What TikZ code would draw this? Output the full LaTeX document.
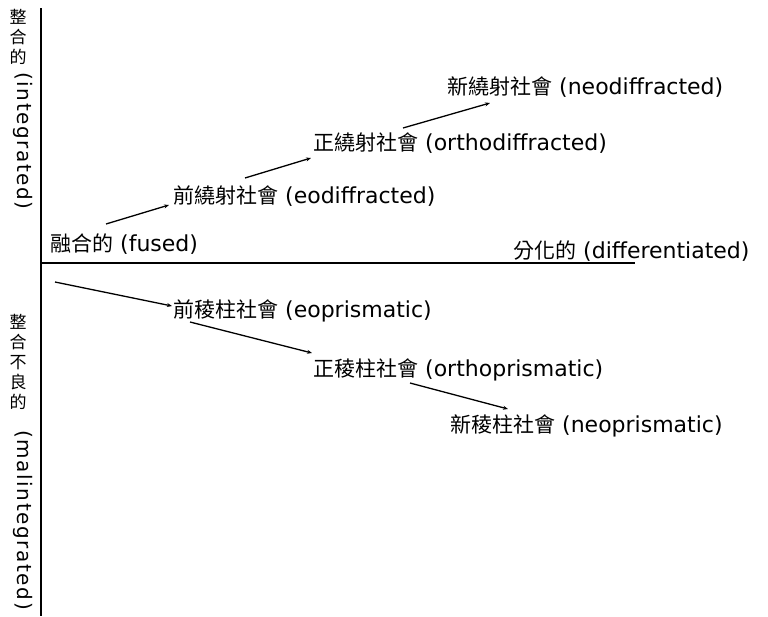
\documentclass[tikz,border=0pt]{standalone}
\usepackage{fontspec}
\setmainfont{DejaVu Sans}
\newfontfamily\cjk{Noto Sans CJK TC}
\newfontfamily\latwide[LetterSpace=8]{DejaVu Sans}
\usetikzlibrary{arrows.meta}
\newcommand\zh[1]{{\cjk\fontsize{21}{24}\selectfont #1}}
\tikzset{
  axisline/.style={line width=1.4pt},
  link/.style={line width=1.3pt,-{Stealth[length=5pt,width=4pt]}},
  lab/.style={inner sep=0pt,anchor=west,font=\fontsize{22}{26}\selectfont},
  vzh/.style={inner sep=0pt,anchor=north,align=center,font=\cjk\fontsize{17}{20}\selectfont},
  vlat/.style={inner sep=0pt,anchor=west,rotate=-90,font=\latwide\fontsize{20}{24}\selectfont},
}
\begin{document}
\begin{tikzpicture}[x=1pt,y=-1pt]
\useasboundingbox (0,0) rectangle (768,616);

% axes
\coordinate (vtop) at (41,8);
\coordinate (vbot) at (41,616);
\coordinate (hleft) at (41,263);
\coordinate (hright) at (635,263);
\draw[axisline] (vtop) -- (vbot);
\draw[axisline] (hleft) -- (hright);

% vertical axis labels
\node[vzh] (intzh) at (18,9) {整\\合\\的};
\node[vlat] (intlat) at (23,72) {(integrated)};
\node[vzh] (malzh) at (18,314) {整\\合\\不\\良\\的};
\node[vlat] (mallat) at (23,430) {(malintegrated)};

% horizontal axis labels
\node[lab] (fused) at (50,244) {\zh{融合的} (fused)};
\node[lab] (diff) at (513,251) {\zh{分化的} (differentiated)};

% diffracted societies
\node[lab] (eodiff) at (173,196) {\zh{前繞射社會} (eodiffracted)};
\node[lab] (orthodiff) at (313,143) {\zh{正繞射社會} (orthodiffracted)};
\node[lab] (neodiff) at (447,87) {\zh{新繞射社會} (neodiffracted)};

% prismatic societies
\node[lab] (eopris) at (173,311) {\zh{前稜柱社會} (eoprismatic)};
\node[lab] (orthopris) at (313,370) {\zh{正稜柱社會} (orthoprismatic)};
\node[lab] (neopris) at (450,426) {\zh{新稜柱社會} (neoprismatic)};

% connector ends
\coordinate (d1s) at (106,224);  \coordinate (d1e) at (169,205);
\coordinate (d2s) at (245,178);  \coordinate (d2e) at (311,158);
\coordinate (d3s) at (403,128);  \coordinate (d3e) at (490,103);
\coordinate (p1s) at (55,282);   \coordinate (p1e) at (172,306);
\coordinate (p2s) at (190,322);  \coordinate (p2e) at (312,353);
\coordinate (p3s) at (410,383);  \coordinate (p3e) at (508,409);

\draw[link] (d1s) -- (d1e);
\draw[link] (d2s) -- (d2e);
\draw[link] (d3s) -- (d3e);
\draw[link] (p1s) -- (p1e);
\draw[link] (p2s) -- (p2e);
\draw[link] (p3s) -- (p3e);
\end{tikzpicture}
\end{document}
